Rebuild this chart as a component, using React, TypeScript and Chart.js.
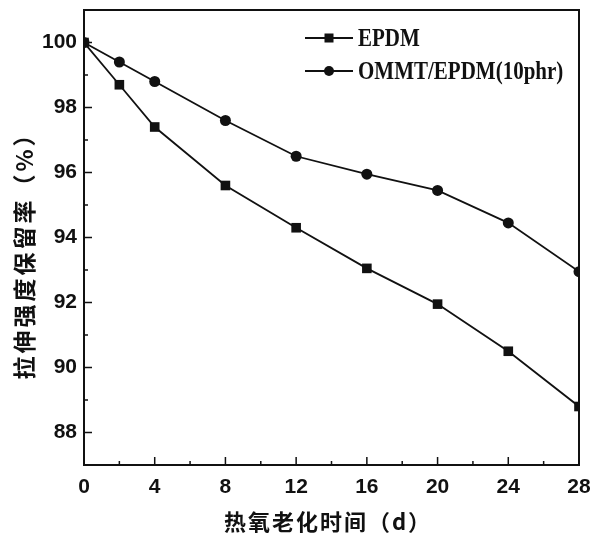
import React, { useEffect, useRef } from "react";
import { Chart, registerables } from "chart.js";

Chart.register(...registerables);

const days = [0, 2, 4, 8, 12, 16, 20, 24, 28];
const epdm = [100, 98.7, 97.4, 95.6, 94.3, 93.05, 91.95, 90.5, 88.8];
const ommt = [100, 99.4, 98.8, 97.6, 96.5, 95.95, 95.45, 94.45, 92.95];
const xTicks = [0, 4, 8, 12, 16, 20, 24, 28];
const xMinor = [2, 6, 10, 14, 18, 22, 26];
const yTicks = [88, 90, 92, 94, 96, 98, 100];
const yMinor = [87, 89, 91, 93, 95, 97, 99];
const seriesNames = ["EPDM", "OMMT/EPDM(10phr)"];
const xTitle = "热氧老化时间（d）";
const yTitle = "拉伸强度保留率（%）";

const INK = "#111";

const framePlugin = {
  id: "frame",
  afterDraw(chart: any) {
    const { ctx, chartArea: a, scales } = chart;
    const xs = scales.x;
    const ys = scales.y;
    ctx.save();
    ctx.strokeStyle = INK;
    ctx.lineWidth = 2;
    ctx.strokeRect(a.left, a.top, a.right - a.left, a.bottom - a.top);
    ctx.lineWidth = 1.5;
    ctx.beginPath();
    xTicks.forEach((v) => {
      const p = xs.getPixelForValue(v);
      ctx.moveTo(p, a.bottom);
      ctx.lineTo(p, a.bottom - 8);
    });
    xMinor.forEach((v) => {
      const p = xs.getPixelForValue(v);
      ctx.moveTo(p, a.bottom);
      ctx.lineTo(p, a.bottom - 4);
    });
    yTicks.forEach((v) => {
      const p = ys.getPixelForValue(v);
      ctx.moveTo(a.left, p);
      ctx.lineTo(a.left + 8, p);
    });
    yMinor.forEach((v) => {
      const p = ys.getPixelForValue(v);
      ctx.moveTo(a.left, p);
      ctx.lineTo(a.left + 4, p);
    });
    ctx.stroke();

    // legend
    const rows = [
      { y: 38, name: seriesNames[0], style: "rect" },
      { y: 71, name: seriesNames[1], style: "circle" },
    ];
    rows.forEach((r) => {
      ctx.strokeStyle = INK;
      ctx.fillStyle = INK;
      ctx.lineWidth = 1.8;
      ctx.beginPath();
      ctx.moveTo(305, r.y);
      ctx.lineTo(353, r.y);
      ctx.stroke();
      if (r.style === "rect") {
        ctx.fillRect(329 - 4.5, r.y - 4.5, 9, 9);
      } else {
        ctx.beginPath();
        ctx.arc(329, r.y, 5, 0, Math.PI * 2);
        ctx.fill();
      }
      ctx.save();
      ctx.translate(358, r.y + 1);
      ctx.scale(1, 1.22);
      ctx.font = "bold 21px 'Liberation Serif'";
      ctx.textAlign = "left";
      ctx.textBaseline = "middle";
      ctx.fillText(r.name, 0, 0);
      ctx.restore();
    });

    // titles
    ctx.fillStyle = INK;
    ctx.font = "bold 22px 'Noto Sans CJK SC'";
    (ctx as any).letterSpacing = "2px";
    ctx.textAlign = "center";
    ctx.textBaseline = "middle";
    ctx.fillText(xTitle, 328, 522);
    ctx.translate(24, 250);
    ctx.rotate(-Math.PI / 2);
    ctx.font = "bold 23px 'Noto Sans CJK SC'";
    (ctx as any).letterSpacing = "3px";
    ctx.fillText(yTitle, 0, 0);
    ctx.restore();
  },
};

const zeroPad = (s: any) => {
  s.paddingLeft = 0;
  s.paddingRight = 0;
  s.paddingTop = 0;
  s.paddingBottom = 0;
};

export default function App() {
  const ref = useRef<HTMLCanvasElement>(null);
  useEffect(() => {
    if (!ref.current) return;
    const chart = new Chart(ref.current, {
      type: "line",
      data: {
        datasets: [
          {
            label: seriesNames[0],
            data: days.map((d, i) => ({ x: d, y: epdm[i] })),
            borderColor: INK,
            backgroundColor: INK,
            borderWidth: 1.8,
            pointStyle: "rect",
            pointRadius: 6.8,
            pointBorderWidth: 0,
            tension: 0,
            clip: 0,
          },
          {
            label: seriesNames[1],
            data: days.map((d, i) => ({ x: d, y: ommt[i] })),
            borderColor: INK,
            backgroundColor: INK,
            borderWidth: 1.8,
            pointStyle: "circle",
            pointRadius: 5.5,
            pointBorderWidth: 0,
            tension: 0,
            clip: 0,
          },
        ],
      },
      options: {
        responsive: false,
        animation: false,
        devicePixelRatio: 1,
        layout: { padding: { left: 0, top: 10, right: 12, bottom: 0 } },
        plugins: { legend: { display: false }, tooltip: { enabled: false } },
        scales: {
          x: {
            type: "linear",
            min: 0,
            max: 28,
            grid: { display: false, drawTicks: false },
            border: { display: false },
            afterBuildTicks: (s: any) => {
              s.ticks = xTicks.map((v) => ({ value: v }));
            },
            afterFit: (s: any) => {
              s.height = 70;
              zeroPad(s);
            },
            ticks: {
              padding: 10,
              maxRotation: 0,
              color: INK,
              font: { family: "'Liberation Sans'", weight: "bold", size: 21 },
            },
          },
          y: {
            type: "linear",
            min: 87,
            max: 101,
            grid: { display: false, drawTicks: false },
            border: { display: false },
            afterBuildTicks: (s: any) => {
              s.ticks = yTicks.map((v) => ({ value: v }));
            },
            afterFit: (s: any) => {
              s.width = 84;
              zeroPad(s);
            },
            ticks: {
              padding: 7,
              color: INK,
              font: { family: "'Liberation Sans'", weight: "bold", size: 21 },
            },
          },
        },
      },
      plugins: [framePlugin],
    } as any);
    return () => chart.destroy();
  }, []);
  return (
    <div style={{ position: "absolute", left: 0, top: 0, width: 591, height: 535, background: "#fff" }}>
      <canvas ref={ref} width={591} height={535} style={{ width: 591, height: 535, display: "block" }} />
    </div>
  );
}
